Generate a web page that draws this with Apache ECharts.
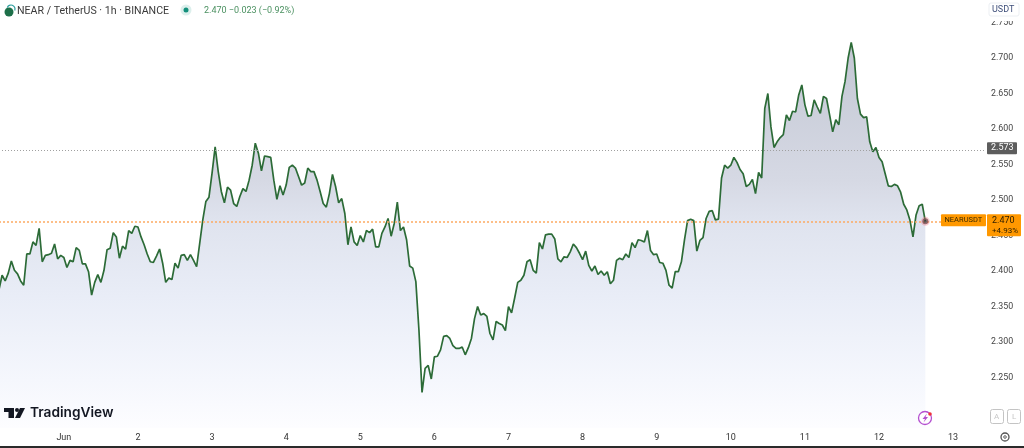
<!DOCTYPE html>
<html>
<head>
<meta charset="utf-8">
<style>html,body{margin:0;padding:0;background:#fff}#c{width:1024px;height:448px}</style>
<script src="https://cdn.jsdelivr.net/npm/echarts@6/dist/echarts.min.js"></script>
</head>
<body>
<div id="c"></div>
<script>
// Hourly closes
const closesMay31ToJun3 = [2.374,2.394,2.386,2.397,2.414,2.401,2.396,2.386,2.380,2.424,2.424,2.441,2.436,2.460,2.413,2.422,2.423,2.425,2.438,2.417,2.422,2.419,2.405,2.415,2.413,2.433,2.429,2.410,2.410,2.399,2.366,2.384,2.395,2.384,2.401,2.430,2.432,2.454,2.448,2.418,2.435,2.431,2.457,2.453,2.463,2.462,2.448,2.437,2.424,2.413,2.412,2.421,2.431,2.411,2.384,2.390,2.388,2.411,2.404,2.422,2.423,2.415,2.423,2.415,2.406,2.439,2.472,2.498,2.504,2.538,2.575,2.540,2.512,2.496,2.518,2.514,2.495,2.491];
const closesJun3ToJun7 = [2.505,2.516,2.512,2.528,2.549,2.580,2.566,2.541,2.562,2.561,2.560,2.528,2.501,2.520,2.507,2.521,2.546,2.549,2.545,2.533,2.521,2.524,2.545,2.540,2.540,2.528,2.512,2.495,2.490,2.509,2.536,2.519,2.496,2.502,2.481,2.437,2.462,2.441,2.436,2.450,2.441,2.457,2.454,2.459,2.434,2.434,2.453,2.462,2.474,2.449,2.467,2.497,2.457,2.462,2.444,2.407,2.404,2.385,2.317,2.229,2.263,2.267,2.248,2.279,2.280,2.289,2.308,2.309,2.305,2.295,2.291,2.291,2.293,2.282,2.292,2.305,2.333,2.350];
const closesJun7ToJun10 = [2.338,2.340,2.336,2.312,2.303,2.329,2.326,2.324,2.316,2.350,2.341,2.362,2.384,2.387,2.394,2.413,2.416,2.401,2.397,2.440,2.431,2.451,2.452,2.452,2.445,2.417,2.413,2.420,2.419,2.427,2.438,2.433,2.425,2.416,2.428,2.408,2.400,2.407,2.395,2.400,2.394,2.399,2.382,2.387,2.415,2.418,2.416,2.424,2.419,2.440,2.433,2.444,2.443,2.441,2.457,2.429,2.423,2.424,2.412,2.411,2.401,2.380,2.376,2.399,2.399,2.413,2.444,2.471,2.473,2.471,2.428,2.443];
const closesJun10ToJun12 = [2.447,2.474,2.484,2.485,2.472,2.473,2.531,2.549,2.545,2.549,2.560,2.553,2.543,2.537,2.519,2.522,2.529,2.509,2.539,2.531,2.629,2.650,2.603,2.574,2.582,2.588,2.592,2.620,2.612,2.625,2.624,2.648,2.662,2.634,2.618,2.619,2.641,2.631,2.622,2.646,2.643,2.620,2.596,2.613,2.606,2.646,2.667,2.700,2.722,2.700,2.643,2.621,2.616,2.617,2.582,2.568,2.574,2.560,2.554,2.537,2.520,2.519,2.522,2.520,2.511,2.494,2.486,2.472,2.448,2.479,2.492,2.494,2.470];
const closes = [].concat(closesMay31ToJun3, closesJun3ToJun7, closesJun7ToJun10, closesJun10ToJun12);
const dayLabels = ['Jun','2','3','4','5','6','7','8','9','10','11','12','13'];
const priceTicks = [2.25,2.30,2.35,2.40,2.45,2.50,2.55,2.60,2.65,2.70,2.75];
const lastPrice = 2.470, refPrice = 2.573;
const hoursBeforeJun = 21, hoursTotal = 320;

const categories = [];
for (let i = 0; i < hoursTotal; i++) {
  const h = i - hoursBeforeJun;
  categories.push(h >= 0 && h % 24 === 0 ? (dayLabels[h / 24] || '') : '');
}
const font = 'Roboto, sans-serif';
const chart = echarts.init(document.getElementById('c'), null, {renderer:'canvas'});
chart.setOption({
  animation:false,
  backgroundColor:'#ffffff',
  grid:{left:-1, top:0, width:985, height:428, containLabel:false, outerBoundsMode:'none'},
  xAxis:{type:'category', boundaryGap:false, data:categories,
    axisLine:{show:false}, axisTick:{show:false}, splitLine:{show:false},
    axisLabel:{interval:0, hideOverlap:false, margin:5, color:'#333', fontSize:9, fontFamily:font}},
  yAxis:{type:'value', position:'right', min:2.1789, max:2.7817, scale:true,
    axisLine:{show:false}, axisTick:{show:false}, splitLine:{show:false},
    axisLabel:{customValues:priceTicks, margin:7, color:'#444', fontSize:8.8, fontFamily:font,
      formatter:v=>v.toFixed(3)}},
  series:[
    {type:'line', data:closes, symbol:'none', smooth:false, z:3,
      lineStyle:{color:'#2c6b37', width:1.7},
      areaStyle:{opacity:1, color:new echarts.graphic.LinearGradient(0,0,0,1,[
        {offset:0,color:'#c4c7d3'},{offset:0.1,color:'#c8ccd8'},{offset:0.36,color:'#d6d9e4'},{offset:0.46,color:'#dfe3ee'},
        {offset:0.66,color:'#e9edf7'},{offset:0.875,color:'#f5f7fd'},{offset:1,color:'#fdfdff'}])},
      markLine:{silent:true, symbol:'none', animation:false, label:{show:false},
        lineStyle:{opacity:1},
        data:[
          {yAxis:refPrice, lineStyle:{color:'#a0a0a0', type:[1,2], width:1, opacity:1}},
          {yAxis:lastPrice, lineStyle:{color:'#fdaa62', type:[2,2], width:1.5, opacity:1}}
        ]}},
    {type:'scatter', data:[[closes.length-1, closes[closes.length-1]]], symbolSize:6, z:5,
      itemStyle:{color:'#3b3b3b', borderColor:'rgba(240,120,130,0.45)', borderWidth:3}}
  ]
});
const yRef = chart.convertToPixel({yAxisIndex:0}, refPrice);
const yLast = chart.convertToPixel({yAxisIndex:0}, lastPrice) - 1;
const t = (x,y,text,o)=>({type:'text', z:100, x, y, style:Object.assign({text, font:'9px '+font, fill:'#333', textVerticalAlign:'middle'}, o||{})});
const r = (x,y,w,h,o,rad)=>({type:'rect', z:99, shape:{x,y,width:w,height:h,r:rad||0}, style:o});
chart.setOption({graphic:{elements:[
  // header
  {type:'circle', z:100, shape:{cx:9,cy:12,r:4.5}, style:{fill:'#1d6f49'}},
  {type:'arc', z:100, shape:{cx:11,cy:9,r:4,startAngle:-2.8,endAngle:0.4}, style:{stroke:'#2a9d9d',fill:null,lineWidth:1.2}},
  t(17,11,'NEAR / TetherUS · 1h · BINANCE',{font:'10.6px '+font, fill:'#3a3a3a'}),
  {type:'circle', z:100, shape:{cx:186,cy:10,r:5.5}, style:{fill:'#dcefec'}},
  {type:'circle', z:100, shape:{cx:186,cy:10,r:2.5}, style:{fill:'#138f7b'}},
  t(204,11,'2.470 −0.023 (−0.92%)',{font:'9px '+font, fill:'#4a9060'}),
  // USDT selector, covering the top tick
  r(987,0,37,21,{fill:'#fff'}),
  r(989,3,30,13,{fill:'#fff',stroke:'#eceff3',lineWidth:1},2),
  t(992,10,'USDT',{font:'9px '+font, fill:'#3f4f7a'}),
  // price tags
  r(987,yRef-6,30,12,{fill:'#5d5d5d'},1),
  t(991,yRef,'2.573',{font:'9px '+font, fill:'#fff'}),
  r(941,yLast-6,45,12,{fill:'#ff9800'},1),
  t(944.5,yLast,'NEARUSDT',{font:'7.5px '+font, fill:'#3a2a00'}),
  r(987,yLast-6,34,22,{fill:'#ff9800'},1),
  t(992,yLast+0.5,'2.470',{font:'9px '+font, fill:'#2b1d00'}),
  t(992,yLast+10.5,'+4.93%',{font:'8px '+font, fill:'#2b1d00'}),
  // TradingView logo
  {type:'polygon', z:100, shape:{points:[[4,408],[14,408],[14,418],[8.5,418],[8.5,412],[4,412]]}, style:{fill:'#131722'}},
  {type:'circle', z:100, shape:{cx:17,cy:410,r:2}, style:{fill:'#131722'}},
  {type:'polygon', z:100, shape:{points:[[20,408],[25,408],[20,418],[15,418]]}, style:{fill:'#131722'}},
  t(30,413,'TradingView',{font:'600 13.7px Inter, '+font, fill:'#131722'}),
  // lightning badge
  {type:'circle', z:100, shape:{cx:925,cy:418,r:6.5}, style:{fill:'#fff',stroke:'#b44fd0',lineWidth:1.3}},
  {type:'polygon', z:100, shape:{points:[[927,413.5],[922.5,419],[925,419],[923.5,422.5],[928,417],[925.5,417]]}, style:{fill:'#b44fd0'}},
  {type:'circle', z:101, shape:{cx:930,cy:414,r:1.8}, style:{fill:'#f0303a'}},
  // A / L buttons
  r(990.5,409.5,13,14,{fill:'#fff',stroke:'#c4c4c4',lineWidth:1},2),
  t(994,416.5,'A',{font:'8px '+font, fill:'#c8c8c8'}),
  r(1007.5,409.5,13,14,{fill:'#fff',stroke:'#c4c4c4',lineWidth:1},2),
  t(1012,416.5,'L',{font:'8px '+font, fill:'#c8c8c8'}),
  // settings
  {type:'circle', z:100, shape:{cx:1005,cy:437,r:4}, style:{fill:'#fff',stroke:'#555',lineWidth:1.3}},
  {type:'circle', z:100, shape:{cx:1005,cy:437,r:1.3}, style:{fill:'#fff',stroke:'#555',lineWidth:0.9}},
  // bottom rule
  r(0,446,1024,2,{fill:'#2a2a2a'})
]}});
</script>
</body>
</html>
